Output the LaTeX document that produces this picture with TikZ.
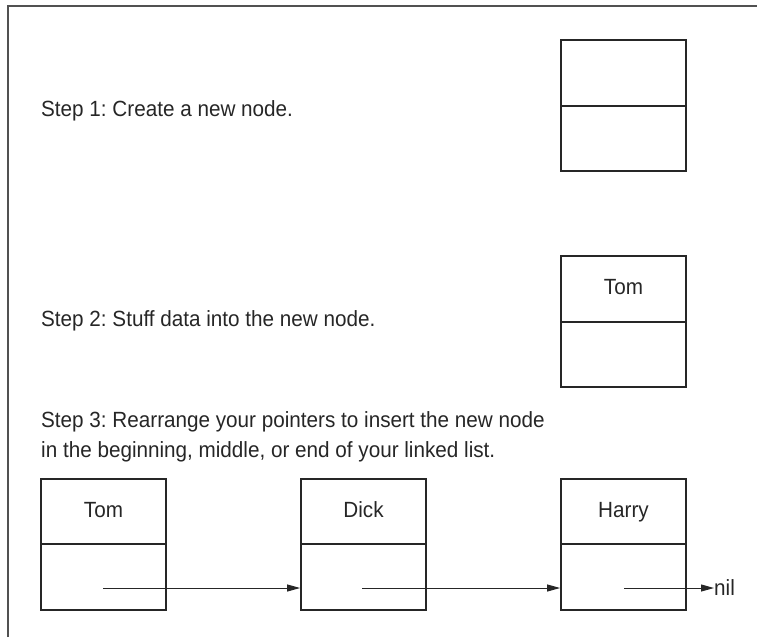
\documentclass[tikz,border=0pt]{standalone}
\usepackage{fontspec}
\setmainfont{Liberation Sans}[FakeStretch=0.94]
\usetikzlibrary{arrows.meta}
\definecolor{ink}{HTML}{262626}
\frenchspacing
\tikzset{
  cell/.style={draw=ink, line width=1.8pt, minimum width=125pt, minimum height=65.5pt, inner sep=0pt, text height=16pt, text depth=5pt, font=\fontsize{22}{26}\selectfont, text=ink},
  lbl/.style={anchor=base west, inner sep=0pt, font=\fontsize{22}{26}\selectfont, text=ink},
  ptr/.style={draw=ink, line width=1pt, -{Triangle[length=13pt,width=7pt]}},
  frame/.style={draw=ink!80, line width=1.5pt}
}
\begin{document}
\begin{tikzpicture}[x=1pt,y=-1pt]
\useasboundingbox (0,0) rectangle (757,637);
\coordinate (fa) at (8,637);
\coordinate (fb) at (8,6);
\coordinate (fc) at (757,6);
\draw[frame] (fa) -- (fb) -- (fc);

% Step 1
\node[lbl] (t1) at (41,116) {Step 1: Create a new node.};
\node[cell] (b1a) at (623.5,73) {};
\node[cell] (b1b) at (623.5,138.5) {};

% Step 2
\node[lbl] (t2) at (41,326) {Step 2: Stuff data into the new node.};
\node[cell] (b2a) at (623.5,289) {Tom};
\node[cell] (b2b) at (623.5,354.5) {};

% Step 3
\node[lbl] (t3a) at (41,427) {Step 3: Rearrange your pointers to insert the new node};
\node[lbl] (t3b) at (41,457) {in the beginning, middle, or end of your linked list.};

\node[cell] (tomA) at (103.5,511.5) {Tom};
\node[cell] (tomB) at (103.5,577) {};
\node[cell] (dickA) at (363.5,511.5) {Dick};
\node[cell] (dickB) at (363.5,577) {};
\node[cell] (harryA) at (623.5,511.5) {Harry};
\node[cell] (harryB) at (623.5,577) {};

\coordinate (p1) at (103,588);
\coordinate (p2) at (362,588);
\coordinate (p3) at (624,588);
\node[lbl] (nil) at (714,595) {nil};

\draw[ptr] (p1) -- (dickB.west |- p1);
\draw[ptr] (p2) -- (harryB.west |- p2);
\draw[ptr] (p3) -- (nil.west |- p3);
\end{tikzpicture}
\end{document}
